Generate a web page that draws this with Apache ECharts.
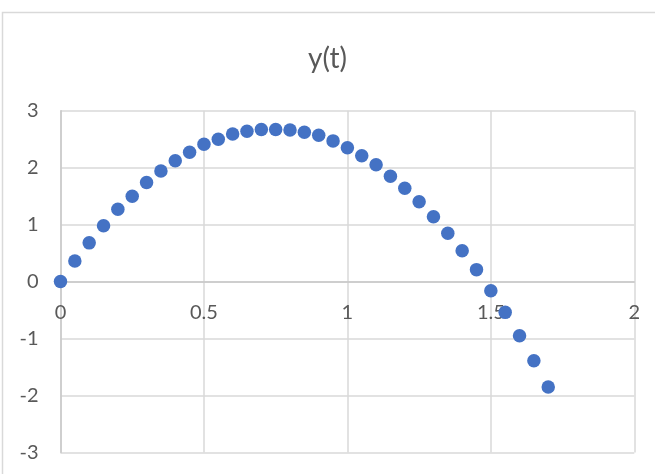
<!DOCTYPE html>
<html>
<head>
<meta charset="utf-8">
<script src="https://cdn.jsdelivr.net/npm/echarts@6/dist/echarts.min.js"></script>
<style>
  html, body { margin: 0; padding: 0; background: #ffffff; }
  #chart { width: 655px; height: 474px; }
</style>
</head>
<body>
<div id="chart"></div>
<script>
// Time samples (s) and height y(t)
const tValues = [0, 0.05, 0.1, 0.15, 0.2, 0.25, 0.3, 0.35, 0.4, 0.45, 0.5, 0.55, 0.6, 0.65, 0.7, 0.75, 0.8, 0.85,
  0.9, 0.95, 1.0, 1.05, 1.1, 1.15, 1.2, 1.25, 1.3, 1.35, 1.4, 1.45, 1.5, 1.55, 1.6, 1.65, 1.7];
const yValues = [0, 0.36, 0.68, 0.98, 1.27, 1.50, 1.74, 1.94, 2.12, 2.27, 2.41, 2.50, 2.59, 2.64, 2.67, 2.67, 2.66, 2.62,
  2.57, 2.47, 2.35, 2.21, 2.05, 1.85, 1.64, 1.40, 1.14, 0.85, 0.54, 0.21, -0.16, -0.54, -0.95, -1.39, -1.85];
const chartTitle = 'y(t)';

const points = tValues.map((t, i) => [t, yValues[i]]);
const fontFamily = 'Lato, "Noto Sans", sans-serif';

const gridTop = 110.7;
const gridBottom = 21.5;
const plotHeight = 474 - gridTop - gridBottom;
// the horizontal axis crosses at y = 0, i.e. halfway through the -3..3 range
const xAxisShift = -plotHeight / 2;

const chart = echarts.init(document.getElementById('chart'), null, { renderer: 'canvas' });
chart.setOption({
  backgroundColor: '#ffffff',
  animation: false,
  graphic: [{
    type: 'rect',
    shape: { x: 2.5, y: 12.5, width: 700, height: 500 },
    style: { fill: 'none', stroke: '#d9d9d9', lineWidth: 1.5 },
    silent: true,
    z: -1
  }],
  title: {
    text: chartTitle,
    left: 'center',
    top: 40,
    textStyle: { fontFamily, fontSize: 28, fontWeight: 'normal', color: '#595959' }
  },
  grid: {
    left: 60.5, right: 20.7, top: gridTop, bottom: gridBottom,
    containLabel: false, outerBoundsMode: 'none'
  },
  xAxis: {
    type: 'value',
    min: 0, max: 2, interval: 0.5,
    offset: xAxisShift,
    axisLine: { show: true, onZero: false, lineStyle: { color: '#c8c8c8', width: 1.5 } },
    axisTick: { show: false },
    axisLabel: { color: '#595959', fontFamily, fontSize: 20, margin: 21 },
    splitLine: { show: true, lineStyle: { color: '#d9d9d9', width: 1.5 } }
  },
  yAxis: {
    type: 'value',
    min: -3, max: 3, interval: 1,
    axisLine: { show: true, onZero: false, lineStyle: { color: '#c8c8c8', width: 1.5 } },
    axisTick: { show: false },
    axisLabel: { color: '#595959', fontFamily, fontSize: 20, margin: 22 },
    splitLine: { show: true, lineStyle: { color: '#d9d9d9', width: 1.5 } }
  },
  series: [{
    type: 'scatter',
    data: points,
    symbol: 'circle',
    symbolSize: 13.5,
    itemStyle: { color: '#4472c4', opacity: 1 },
    z: 5
  }]
});
</script>
</body>
</html>
